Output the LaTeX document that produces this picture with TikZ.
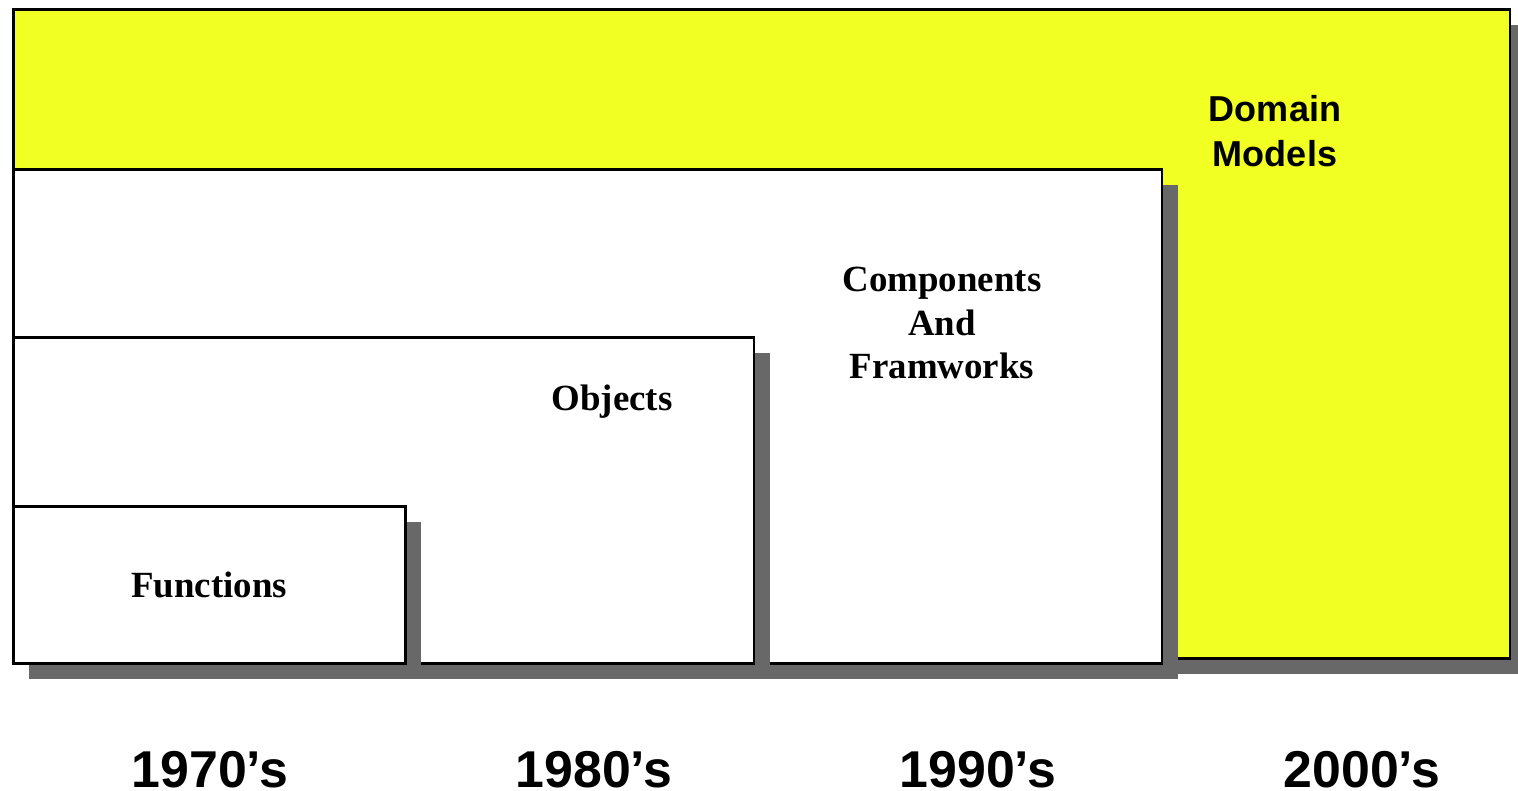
\documentclass[tikz,border=0pt]{standalone}
\usepackage{fontspec}
\setmainfont{Liberation Serif}
\setsansfont{Liberation Sans}
\definecolor{domainyellow}{RGB}{241,255,34}
\definecolor{shadowgray}{RGB}{104,104,104}
\usetikzlibrary{shadows,positioning}

\begin{document}
\begin{tikzpicture}[
		x=0.02cm, y=-0.02cm,
		era/.style={rectangle, draw=black, line width=1.5pt, anchor=north west, inner sep=0pt,
				drop shadow={shadow xshift=0.32cm, shadow yshift=-0.32cm, fill=shadowgray, opacity=1}},
		serifbold/.style={font=\fontsize{21}{25}\selectfont\bfseries, align=center},
		sansbold/.style={font=\fontsize{20.5}{26}\selectfont\sffamily\bfseries, align=center},
		year/.style={font=\fontsize{29.5}{32}\selectfont\sffamily\bfseries, inner sep=0pt,
				text depth=0pt, anchor=base},
		]
		\useasboundingbox (0,0) rectangle (1518,791);

		% Boxes, back to front
		\node[era, fill=domainyellow, minimum width=29.94cm, minimum height=12.98cm] (domain) at (12,8) {};
		\node[era, fill=white, minimum width=22.98cm, minimum height=9.88cm] (components) at (12,168) {};
		\node[era, fill=white, minimum width=14.82cm, minimum height=6.52cm] (objects) at (12,336) {};
		\node[era, fill=white, minimum width=7.84cm, minimum height=3.14cm] (functions) at (12,505) {};

		% Labels
		\node[sansbold] (domainlabel) at (1275,131) {Domain\\Models};
		\node[serifbold] (componentslabel) at (942,323) {Components\\And\\Framworks};
		\node[serifbold] (objectslabel) at (612,402) {Objects};
		\node[serifbold] (functionslabel) at (209,585) {Functions};

		% Decades
		\node[year] (y1970) at (210,787) {1970’s};
		\node[year] (y1980) at (594,787) {1980’s};
		\node[year] (y1990) at (978,787) {1990’s};
		\node[year] (y2000) at (1362,787) {2000’s};
	\end{tikzpicture}
\end{document}
